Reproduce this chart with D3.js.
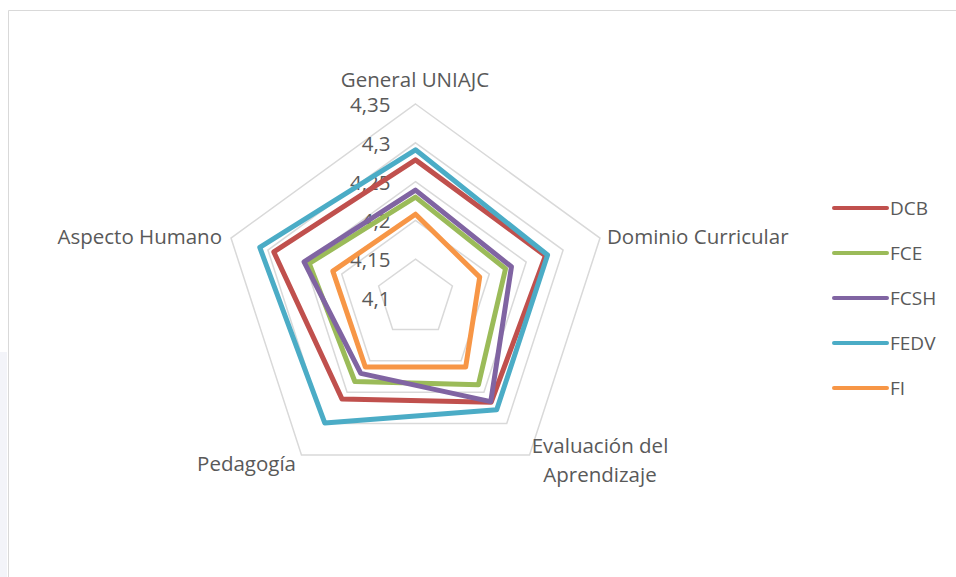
<!DOCTYPE html>
<html lang="es">
<head>
  <meta charset="UTF-8">
  <title>Radar UNIAJC</title>
  <script src="https://cdn.jsdelivr.net/npm/d3@7"></script>
  <style>
    body { margin: 0; background: #fff; }
    svg { display: block; font-family: 'Open Sans', sans-serif; }
  </style>
</head>
<body>
  <script>
    const axes = ["General UNIAJC", "Dominio Curricular", "Evaluación del Aprendizaje", "Pedagogía", "Aspecto Humano"];
    const seriesNames = ["DCB", "FCE", "FCSH", "FEDV", "FI"];
    const colors = ["#c0504d", "#9bbb59", "#8064a2", "#4bacc6", "#f79646"];
    const DCB  = [4.278, 4.276, 4.266, 4.261, 4.292];
    const FCE  = [4.230, 4.222, 4.238, 4.233, 4.244];
    const FCSH = [4.239, 4.230, 4.265, 4.220, 4.251];
    const FEDV = [4.291, 4.279, 4.278, 4.299, 4.311];
    const FI   = [4.208, 4.187, 4.210, 4.210, 4.212];
    const ticks = [4.1, 4.15, 4.2, 4.25, 4.3, 4.35];

    const seriesValues = [DCB, FCE, FCSH, FEDV, FI];

    const width = 956, height = 577;
    const cx = 415.5, cy = 298;

    const svg = d3.select("body").append("svg")
        .attr("width", width)
        .attr("height", height);

    // chart frame
    svg.append("rect").attr("x", 0).attr("y", 352).attr("width", 7).attr("height", 225).attr("fill", "#f3f4f9");
    svg.append("path")
        .attr("d", "M8.5,577 V10.5 H956")
        .attr("fill", "none")
        .attr("stroke", "#d9d9d9")
        .attr("stroke-width", 1);

    const r = d3.scaleLinear().domain([4.1, 4.35]).range([0, 194]);
    const angle = d3.scalePoint().domain(d3.range(axes.length)).range([0, 2 * Math.PI * (axes.length - 1) / axes.length]);

    const pt = (i, v) => [cx + r(v) * Math.sin(angle(i)), cy - r(v) * Math.cos(angle(i))];

    const g = svg.append("g");

    // rings
    g.append("g")
        .selectAll("path")
        .data(ticks.slice(1))
        .join("path")
          .attr("d", t => d3.line()(axes.map((a, i) => pt(i, t))) + "Z")
          .attr("fill", "none")
          .attr("stroke", "#d9d9d9")
          .attr("stroke-width", 1.5);

    // tick labels
    g.append("g")
        .selectAll("text")
        .data(ticks)
        .join("text")
          .attr("x", cx - 25)
          .attr("y", t => cy - r(t) + 8)
          .attr("text-anchor", "end")
          .attr("fill", "#595959")
          .attr("font-size", 20.5)
          .text(t => d3.format(".2~f")(t).replace(".", ","));

    // series
    g.append("g")
        .selectAll("path")
        .data(seriesValues)
        .join("path")
          .attr("d", vals => d3.line()(vals.map((v, i) => pt(i, v))) + "Z")
          .attr("fill", "none")
          .attr("stroke", (d, i) => colors[i])
          .attr("stroke-width", 5)
          .attr("stroke-linejoin", "round");

    // category labels
    const catPos = [
      { x: 415, y: 87, anchor: "middle", lines: ["General UNIAJC"] },
      { x: 607, y: 244, anchor: "start", lines: ["Dominio Curricular"] },
      { x: 600, y: 453, anchor: "middle", lines: ["Evaluación del", "Aprendizaje"] },
      { x: 296, y: 471, anchor: "end", lines: ["Pedagogía"] },
      { x: 222, y: 244, anchor: "end", lines: ["Aspecto Humano"] }
    ];
    const cat = g.append("g")
        .selectAll("text")
        .data(catPos)
        .join("text")
          .attr("x", d => d.x)
          .attr("y", d => d.y)
          .attr("text-anchor", d => d.anchor)
          .attr("fill", "#595959")
          .attr("font-size", 20.5);
    cat.selectAll("tspan")
        .data(d => d.lines.map(l => ({ l, x: d.x })))
        .join("tspan")
          .attr("x", d => d.x)
          .attr("dy", (d, i) => i ? 29 : 0)
          .text(d => d.l);

    // legend
    const legend = svg.append("g")
        .selectAll("g")
        .data(seriesNames)
        .join("g")
          .attr("transform", (d, i) => `translate(832,${208 + i * 45})`);
    legend.append("line")
        .attr("x1", 2).attr("x2", 55)
        .attr("stroke", (d, i) => colors[i])
        .attr("stroke-width", 4)
        .attr("stroke-linecap", "round");
    legend.append("text")
        .attr("x", 58)
        .attr("y", 7)
        .attr("fill", "#595959")
        .attr("font-size", 19)
        .text(d => d);
  </script>
</body>
</html>
